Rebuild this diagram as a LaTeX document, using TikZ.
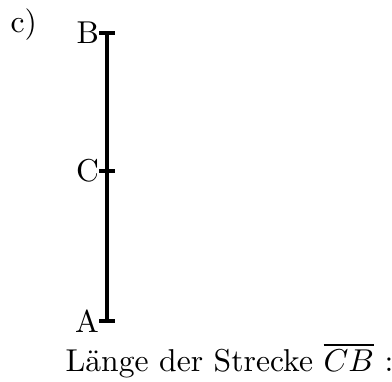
\documentclass[tikz,border=0pt]{standalone}
\usepackage{amsmath}
\usetikzlibrary{positioning}

\tikzset{
    seg/.style={line width=1.1pt},
    lbl/.style={inner sep=0pt, scale=1.02}
}

\begin{document}
\begin{tikzpicture}
    \useasboundingbox (0, 0) rectangle (4.444, 4.32);

    \coordinate (A) at (1.213, 0.68);
    \coordinate (C) at (1.213, 2.381);
    \coordinate (B) at (1.213, 3.946);

    \draw[seg] (A) -- (B);
    \foreach \p in {A, C, B}
        \draw[seg] ([xshift=-0.09cm]\p) -- ([xshift=0.09cm]\p);

    \node[lbl, left=2.4pt of A] (labA) {A};
    \node[lbl, left=2.4pt of C] (labC) {C};
    \node[lbl, left=2.4pt of B] (labB) {B};

    \node[lbl, anchor=base west] (part) at (0.113, 3.957) {c)};
    \node[lbl, anchor=base west] (len) at (0.737, 0.113) {L\"ange der Strecke $\overline{CB}$ :};
\end{tikzpicture}
\end{document}
